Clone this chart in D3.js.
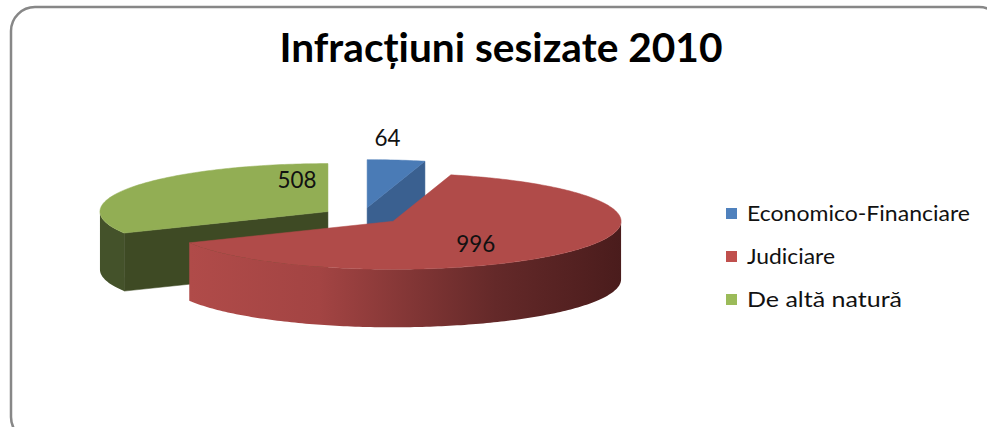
<!DOCTYPE html>
<html><head><meta charset="utf-8">
<script src="https://cdn.jsdelivr.net/npm/d3@7"></script>
<style>html,body{margin:0;padding:0;background:#fff;} svg{display:block}</style>
</head><body>
<svg id="c" width="987" height="427"></svg>
<script>
// ---- data ----
const chartTitle = "Infracțiuni sesizate 2010";
const categories = ["Economico-Financiare", "Judiciare", "De altă natură"];
const values = [64, 996, 508];

// ---- styles ----
const legendColors = ["#4F81BD", "#C0504D", "#9BBB59"];
const topColors = ["#4a7bb6", "#b04b49", "#92ae54"];
const cutColors = ["#3a6090", "#7a2f2f", "#3e4a24"];
const sideColors = ["#3a6090", "url(#redSide)", "#44522a"];

const W = 987, H = 427;
const svg = d3.select("#c");
const defs = svg.append("defs");

// frame
svg.append("rect").attr("x", 11).attr("y", 7).attr("width", 992).attr("height", 434)
  .attr("rx", 24).attr("fill", "#ffffff").attr("stroke", "#878787").attr("stroke-width", 2.5);

// title
svg.append("text").attr("x", 501).attr("y", 62).attr("text-anchor", "middle")
  .attr("font-family", "Lato, 'Open Sans', sans-serif").attr("font-weight", 700)
  .attr("font-size", 40).attr("fill", "#000")
  .attr("textLength", 443).attr("lengthAdjust", "spacingAndGlyphs")
  .text(chartTitle);

// ---- 3D pie geometry ----
const geo = {cx: 362, cy: 216, rx: 228, ry: 48, h: 58, explode: 40};
const k = geo.ry / geo.rx;
const arcs = d3.pie().sort(null).startAngle(0).endAngle(2 * Math.PI)(values);

const grad = defs.append("linearGradient").attr("id", "redSide")
  .attr("gradientUnits", "userSpaceOnUse").attr("x1", 170).attr("x2", 622).attr("y1", 0).attr("y2", 0);
[[0, "#b24c4a"], [0.33, "#a34443"], [0.72, "#642929"], [1, "#4a1c1c"]].forEach(([o, c]) =>
  grad.append("stop").attr("offset", o).attr("stop-color", c));

function offsetOf(a) {
  const m = (a.startAngle + a.endAngle) / 2;
  return [geo.explode * Math.sin(m), -geo.explode * k * Math.cos(m)];
}
function pt(ang, r, z, o) {
  return [geo.cx + o[0] + r * geo.rx * Math.sin(ang), geo.cy + o[1] - r * geo.ry * Math.cos(ang) + z];
}
function arcPts(a0, a1, z, o) {
  const n = Math.max(2, Math.ceil(Math.abs(a1 - a0) / (Math.PI / 180)));
  return d3.range(n + 1).map(i => pt(a0 + (a1 - a0) * i / n, 1, z, o));
}
const line = d3.line().curve(d3.curveLinearClosed);

const order = arcs.map((a, i) => i)
  .sort((i, j) => Math.cos((arcs[j].startAngle + arcs[j].endAngle) / 2) - Math.cos((arcs[i].startAngle + arcs[i].endAngle) / 2));

const pieG = svg.append("g");
order.forEach(i => {
  const a = arcs[i], o = offsetOf(a);
  const g = pieG.append("g");
  // cut faces
  [[a.startAngle, a.startAngle - Math.PI / 2], [a.endAngle, a.endAngle + Math.PI / 2]].forEach(([ang, nrm]) => {
    if (Math.cos(nrm) < -1e-6) {
      const p = [pt(ang, 0, 0, o), pt(ang, 1, 0, o), pt(ang, 1, geo.h, o), pt(ang, 0, geo.h, o)];
      g.append("path").attr("d", line(p)).attr("fill", cutColors[i]).attr("stroke", cutColors[i]).attr("stroke-width", 0.5);
    }
  });
  // outer side (front-facing part)
  const s = Math.max(a.startAngle, Math.PI / 2), e = Math.min(a.endAngle, 3 * Math.PI / 2);
  if (e > s) {
    const p = arcPts(s, e, 0, o).concat(arcPts(e, s, geo.h, o));
    g.append("path").attr("d", line(p)).attr("fill", sideColors[i]).attr("stroke", "none");
  }
  // top
  const tp = [pt(a.startAngle, 0, 0, o)].concat(arcPts(a.startAngle, a.endAngle, 0, o));
  g.append("path").attr("d", line(tp)).attr("fill", topColors[i]).attr("stroke", topColors[i]).attr("stroke-width", 0.5);
});

// data labels (angle fraction within slice, radius fraction)
const labelPlace = [[0.24, 1.45], [0.56, 0.6], [0.9, 0.67]];
arcs.forEach((a, i) => {
  const o = offsetOf(a);
  const [f, r] = labelPlace[i];
  const ang = a.startAngle + (a.endAngle - a.startAngle) * f;
  const p = pt(ang, r, 0, o);
  svg.append("text").attr("x", p[0]).attr("y", p[1] + 8).attr("text-anchor", "middle")
    .attr("font-family", "Lato, 'Open Sans', sans-serif").attr("font-size", 24).attr("fill", "#111")
    .attr("textLength", String(a.data).length * 13).attr("lengthAdjust", "spacingAndGlyphs")
    .text(a.data);
});

// legend
const ly = d3.scalePoint().domain(categories).range([213.5, 299.5]);
const legendWidths = [223, 88, 155];
const lg = svg.append("g");
categories.forEach((c, i) => {
  lg.append("rect").attr("x", 726).attr("y", ly(c) - 5.5).attr("width", 11).attr("height", 11).attr("fill", legendColors[i]);
  lg.append("text").attr("x", 747).attr("y", ly(c) + 7).attr("font-family", "Lato, 'Open Sans', sans-serif")
    .attr("font-size", 21).attr("fill", "#111")
    .attr("textLength", legendWidths[i]).attr("lengthAdjust", "spacingAndGlyphs").text(c);
});
</script>
</body></html>
